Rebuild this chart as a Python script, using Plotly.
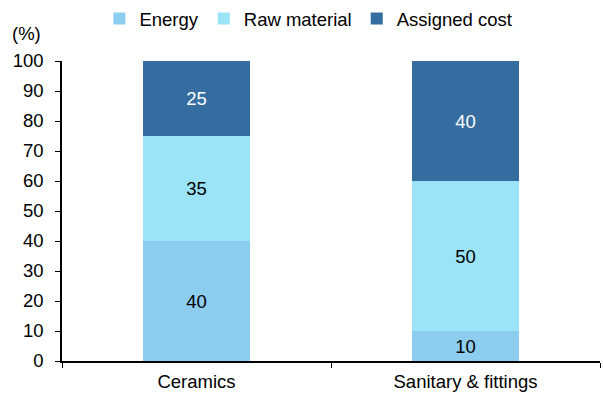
import plotly.graph_objects as go

categories = ["Ceramics", "Sanitary & fittings"]
energy = [40, 10]
raw_material = [35, 50]
assigned_cost = [25, 40]
y_ticks = [0, 10, 20, 30, 40, 50, 60, 70, 80, 90, 100]

FONT = "Liberation Sans, Arial, sans-serif"
FS = 18.5

fig = go.Figure()
series = [
    ("Energy", energy, "#8ccdf0", "black"),
    ("Raw material", raw_material, "#9be3f7", "black"),
    ("Assigned cost", assigned_cost, "#356da1", "white"),
]
for name, vals, col, tcol in series:
    fig.add_trace(go.Bar(
        name=name, x=categories, y=vals, marker=dict(color=col, line=dict(width=0)),
        text=[str(v) for v in vals], textposition="inside", insidetextanchor="middle",
        textfont=dict(color=tcol, size=FS, family=FONT), width=0.4,
    ))

fig.update_layout(
    barmode="stack",
    width=603, height=394,
    margin=dict(l=62, r=3, t=61, b=33),
    paper_bgcolor="white", plot_bgcolor="white",
    font=dict(family=FONT, size=FS, color="black"),
    showlegend=True,
    legend=dict(orientation="h", x=0.458, y=1.0, xanchor="center", yanchor="top",
                yref="container", font=dict(size=FS), itemwidth=30,
                traceorder="normal"),
    uniformtext=dict(minsize=FS, mode="show"),
)
fig.update_xaxes(showline=True, linecolor="black", linewidth=1.5, ticks="outside",
                 tickson="boundaries", ticklen=5, tickcolor="black", showgrid=False,
                 tickfont=dict(size=FS), ticklabelstandoff=3)
fig.update_yaxes(range=[0, 100], tickvals=y_ticks, showline=True, linecolor="black",
                 linewidth=1.5, ticks="outside", ticklen=5, tickcolor="black",
                 showgrid=False, zeroline=False, tickfont=dict(size=FS),
                 ticklabelstandoff=8)
fig.add_annotation(text="(%)", xref="paper", yref="paper", x=-0.097, y=1.093,
                   xanchor="left", yanchor="middle", showarrow=False, font=dict(size=FS))
fig.write_html("out.html")
